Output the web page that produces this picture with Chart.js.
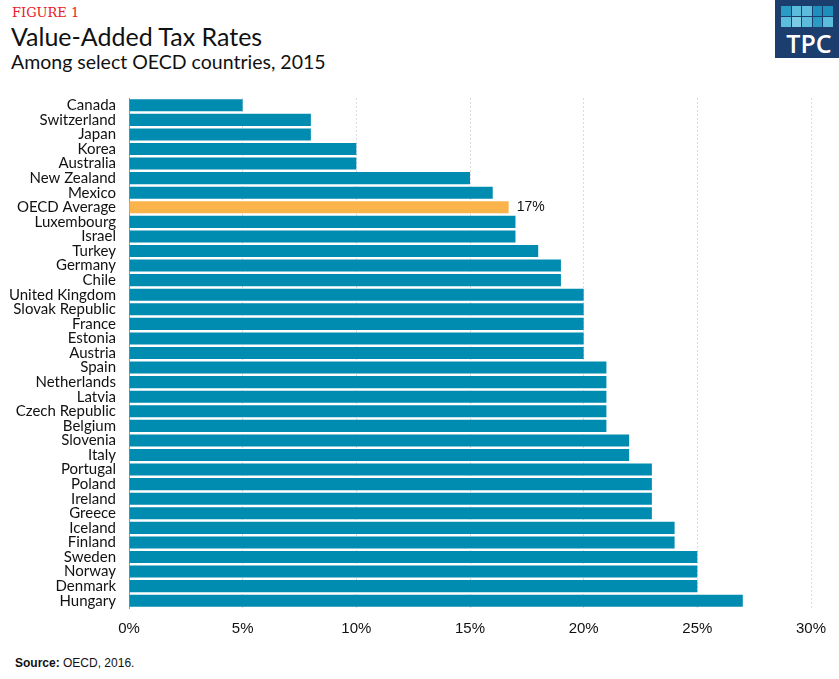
<!DOCTYPE html>
<html>
<head>
<meta charset="utf-8">
<script src="https://cdn.jsdelivr.net/npm/chart.js@4"></script>
<style>
  body { margin: 0; background: #fff; font-family: Lato, sans-serif; }
  #wrap { position: relative; width: 839px; height: 679px; overflow: hidden; }
  #fig { position: absolute; left: 12px; top: 5px; font-family: "DejaVu Serif", serif; font-size: 13px; color: #e8202a; }
  #title { position: absolute; left: 11px; top: 21px; font-size: 25px; color: #111; }
  #sub { position: absolute; left: 11px; top: 50px; font-size: 19.5px; color: #111; }
  #logo { position: absolute; left: 775px; top: 0; width: 64px; height: 58px; background: #1c3e6e; }
  .sq { position: absolute; width: 9.5px; height: 9.5px; }
  #tpc { position: absolute; left: 2px; top: 31px; width: 64px; text-align: center; color: #fff; font-family: "Open Sans", sans-serif; font-weight: 600; font-size: 25px; line-height: 24px; }
  #src { position: absolute; left: 15px; top: 656px; font-size: 12px; font-family: "Liberation Sans", Arial, sans-serif; color: #111; }
  #chartbox { position: absolute; left: 0; top: 76px; width: 839px; height: 574px; }
</style>
</head>
<body>
<div id="wrap">
  <div id="fig">FIGURE 1</div>
  <div id="title">Value-Added Tax Rates</div>
  <div id="sub">Among select OECD countries, 2015</div>
  <div id="logo"><div id="tpc">TPC</div></div>
  <div id="chartbox"><canvas id="vat-canvas"></canvas></div>
  <div id="src"><b>Source:</b> OECD, 2016.</div>
</div>
<script>
// logo squares
const logo = document.getElementById('logo');
const sqColors = [
  ['#2a9cc4', '#5cbcdc', '#5cbcdc', '#1e8fbd', '#1e8fbd'],
  ['#5cbcdc', '#7ccbe4', '#5cbcdc', '#2a9cc4', '#5cbcdc']
];
for (let r = 0; r < 2; r++) {
  for (let c = 0; c < 5; c++) {
    let d = document.createElement('div');
    d.className = 'sq';
    d.style.left = (6 + c * 10.6) + 'px';
    d.style.top = (6 + r * 11) + 'px';
    d.style.background = sqColors[r][c];
    logo.appendChild(d);
  }
}

const countries = ['Canada', 'Switzerland', 'Japan', 'Korea', 'Australia', 'New Zealand', 'Mexico',
  'OECD Average', 'Luxembourg', 'Israel', 'Turkey', 'Germany', 'Chile', 'United Kingdom',
  'Slovak Republic', 'France', 'Estonia', 'Austria', 'Spain', 'Netherlands', 'Latvia',
  'Czech Republic', 'Belgium', 'Slovenia', 'Italy', 'Portugal', 'Poland', 'Ireland', 'Greece',
  'Iceland', 'Finland', 'Sweden', 'Norway', 'Denmark', 'Hungary'];
const rates = [5, 8, 8, 10, 10, 15, 16, 16.7, 17, 17, 18, 19, 19, 20, 20, 20, 20, 20, 21, 21, 21,
  21, 21, 22, 22, 23, 23, 23, 23, 24, 24, 25, 25, 25, 27];
const xTicks = [0, 5, 10, 15, 20, 25, 30];
const avgLabel = '17%';

const barColors = countries.map(c => c === 'OECD Average' ? '#fbb44c' : '#008bb0');

// writes the label next to the OECD average bar
const avgLabelPlugin = {
  id: 'avgLabel',
  afterDatasetsDraw(chart) {
    const idx = countries.indexOf('OECD Average');
    const bar = chart.getDatasetMeta(0).data[idx];
    const ctx = chart.ctx;
    ctx.save();
    ctx.font = '14px "Liberation Sans", Arial, sans-serif';
    ctx.fillStyle = '#111';
    ctx.textBaseline = 'middle';
    ctx.fillText(avgLabel, bar.x + 8, bar.y);
    ctx.restore();
  }
};

new Chart('vat-canvas', {
  type: 'bar',
  data: {
    labels: countries,
    datasets: [{
      data: rates,
      backgroundColor: barColors,
      categoryPercentage: 0.83,
      barPercentage: 1.0
    }]
  },
  options: {
    indexAxis: 'y',
    responsive: true,
    maintainAspectRatio: false,
    animation: false,
    layout: { padding: { top: 6, right: 28, bottom: 0, left: 0 } },
    plugins: {
      legend: { display: false },
      tooltip: { enabled: false }
    },
    scales: {
      x: {
        min: 0,
        max: 30,
        afterBuildTicks(scale) {
          scale.ticks = xTicks.map(v => ({ value: v }));
        },
        grid: {
          color: '#dcdcdc',
          lineWidth: 1,
          drawTicks: false
        },
        border: { display: false, dash: [2, 2] },
        ticks: {
          padding: 12,
          color: '#111',
          font: { family: '"Liberation Sans", Arial, sans-serif', size: 15 },
          callback: v => v + '%'
        }
      },
      y: {
        afterFit(scale) { scale.width = 129; },
        grid: { display: false, drawTicks: false },
        border: { display: true, color: '#9a9a9a', width: 1 },
        ticks: {
          autoSkip: false,
          padding: 13,
          color: '#111',
          font: { family: 'Lato, sans-serif', size: 15 }
        }
      }
    }
  },
  plugins: [avgLabelPlugin]
});
</script>
</body>
</html>
